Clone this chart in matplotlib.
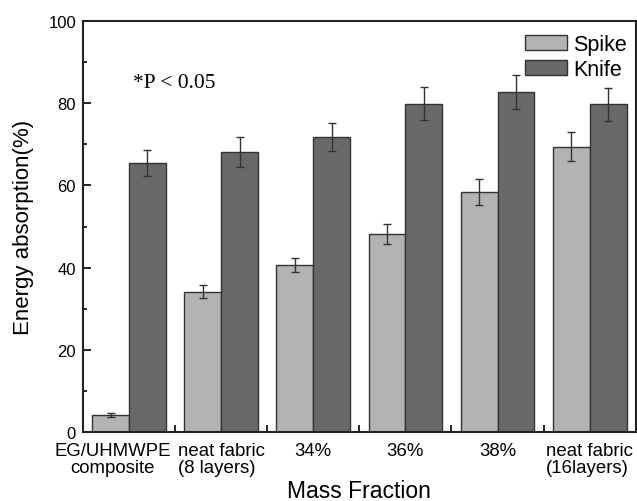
import matplotlib
matplotlib.use("Agg")
import matplotlib.pyplot as plt
import numpy as np

categories = ["EG/UHMWPE\ncomposite", "neat fabric\n(8 layers)", "34%", "36%", "38%", "neat fabric\n(16layers)"]
spike = [4.2, 34.1, 40.6, 48.1, 58.4, 69.4]
spike_err = [0.5, 1.6, 1.7, 2.4, 3.2, 3.5]
knife = [65.5, 68.1, 71.9, 79.9, 82.8, 79.7]
knife_err = [3.1, 3.6, 3.4, 4.0, 4.2, 4.0]

plt.rcParams['font.family'] = ['Liberation Sans', 'DejaVu Sans']

fig = plt.figure(figsize=(6.37, 5.02), dpi=100)
ax = fig.add_axes([0.1303, 0.1375, 0.8677, 0.8185])

x = np.arange(len(categories)) + 0.5
w = 0.4
ax.bar(x - w/2, spike, w, color='#b3b3b3', edgecolor='#333333', linewidth=1.0, label='Spike', zorder=2)
ax.bar(x + w/2, knife, w, color='#696969', edgecolor='#333333', linewidth=1.0, label='Knife', zorder=2)
ax.errorbar(x - w/2, spike, yerr=spike_err, fmt='none', ecolor='#333333', elinewidth=1.0, capsize=2.8, capthick=1.0, zorder=3)
ax.errorbar(x + w/2, knife, yerr=knife_err, fmt='none', ecolor='#333333', elinewidth=1.0, capsize=3.0, capthick=1.0, zorder=3)

ax.set_xlim(0, len(categories))
ax.set_ylim(0, 100)
ax.set_yticks(np.arange(0, 101, 20))
ax.set_yticks(np.arange(10, 100, 20), minor=True)
label_pos = x.copy()
label_pos[0] = x[0] - 0.18
ax.set_xticks(label_pos)
labels = ax.set_xticklabels(categories, fontsize=13.4, linespacing=1.05)
for i, lab in enumerate(labels):
    if i in (1, 5):
        lab.set_multialignment('left')
ax.set_xticks(np.arange(1, len(categories)), minor=True)
ax.tick_params(axis='x', which='major', length=0, pad=7)
ax.tick_params(axis='x', which='minor', direction='in', length=5, width=1.2)
ax.tick_params(axis='y', which='major', direction='in', length=6, width=1.2, labelsize=12, pad=5)
ax.tick_params(axis='y', which='minor', direction='in', length=3, width=1.2)
for s in ax.spines.values():
    s.set_linewidth(1.5)
    s.set_color('#222222')

ax.set_ylabel("Energy absorption(%)", fontsize=16, labelpad=10)
ax.set_xlabel("Mass Fraction", fontsize=16.5, labelpad=2)

ax.text(0.54, 85, "*P < 0.05", fontsize=15.5, family=['Liberation Serif', 'DejaVu Serif'], va='center', ha='left')

leg = ax.legend(loc='upper right', bbox_to_anchor=(1.008, 1.0), frameon=False, fontsize=15.5,
                handlelength=1.95, handleheight=0.7, labelspacing=0.2, handletextpad=0.3, borderaxespad=0.2)

fig.savefig("out.png", dpi=100)
